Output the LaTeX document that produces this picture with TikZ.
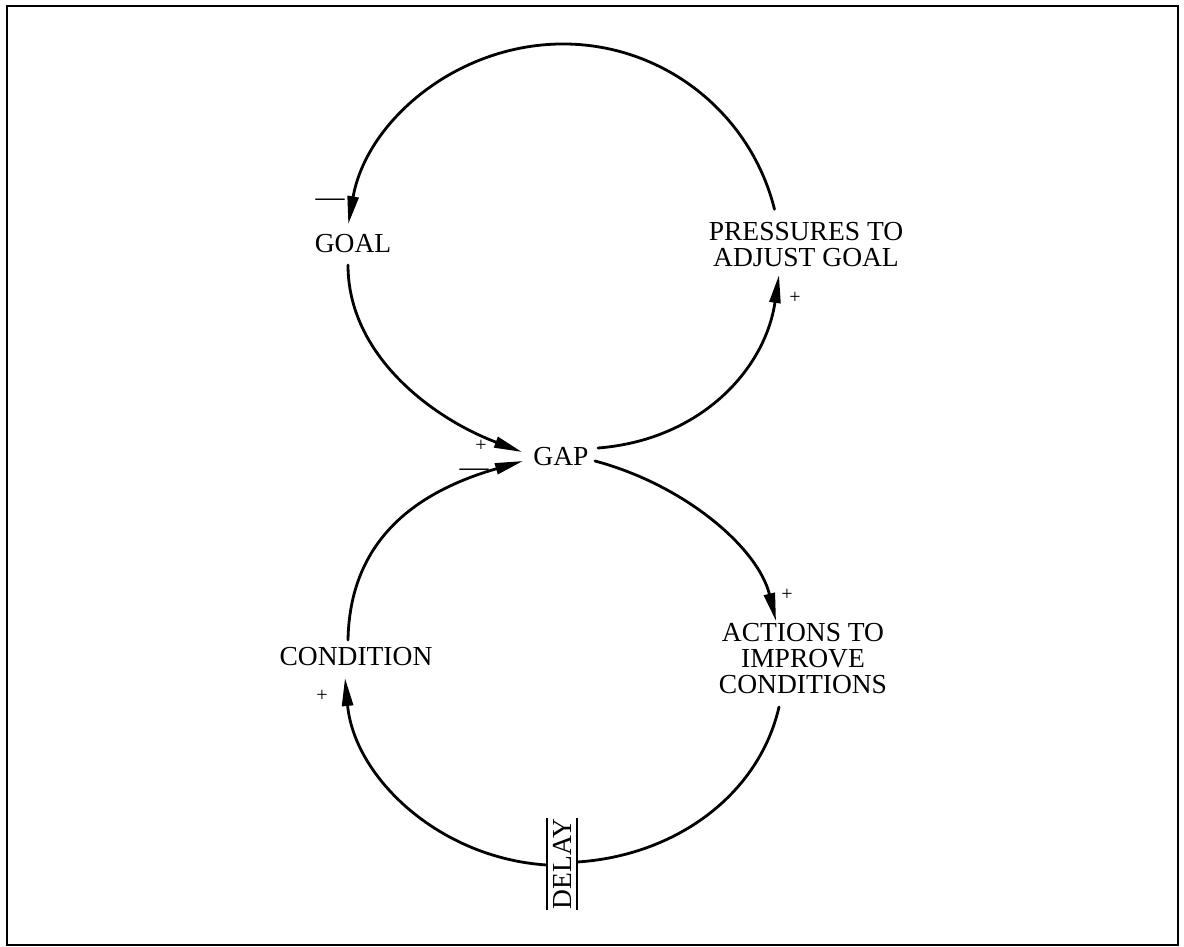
\documentclass[tikz,border=0pt]{standalone}
\usepackage{fontspec}
\setmainfont{Liberation Serif}
\usetikzlibrary{arrows.meta}
\begin{document}
\begin{tikzpicture}[x=1pt,y=-1pt,
  vartext/.style={font=\fontsize{27.5}{26}\selectfont, align=center, inner sep=0pt},
  polarity/.style={font=\fontsize{20}{20}\selectfont, inner sep=0pt},
  minussign/.style={font=\fontsize{29}{29}\selectfont, inner sep=0pt},
  loopline/.style={line width=2.8pt, line join=round, line cap=round},
  tip/.style={-{Triangle[length=28pt,width=11pt]}},
  bar/.style={line width=2.5pt},
]
\useasboundingbox (0,0) rectangle (1184,946);
% outer frame
\draw[line width=2.5pt] (7,6) rectangle (1178,945);

% variables
\node[vartext] (goal)    at (353,244) {GOAL};
\node[vartext] (press)   at (806,245) {PRESSURES TO\\ADJUST GOAL};
\node[vartext] (gap)     at (561,457) {GAP};
\node[vartext] (cond)    at (356,657) {CONDITION};
\node[vartext] (actions) at (803,659) {ACTIONS TO\\IMPROVE\\CONDITIONS};
\node[minimum width=30pt, minimum height=88pt, inner sep=0pt] (delay) at (562,864)
  {\fontsize{27.5}{26}\selectfont\rotatebox{90}{DELAY}};
\draw[bar] (delay.north west) -- (delay.south west);
\draw[bar] (delay.north east) -- (delay.south east);

% connector end points, placed relative to the variables
\coordinate (pressTop)   at ([shift={(-31.5,-35.7)}]press.center);
\coordinate (pressIn)    at ([shift={(-27,30)}]press.center);
\coordinate (goalIn)     at ([shift={(-4.7,-19.9)}]goal.center);
\coordinate (goalOut)    at ([shift={(-5,21)}]goal.center);
\coordinate (gapInA)     at ([shift={(-39,-5)}]gap.center);
\coordinate (gapInB)     at ([shift={(-38,4)}]gap.center);
\coordinate (gapOutA)    at ([shift={(37,-9)}]gap.center);
\coordinate (gapOutB)    at ([shift={(34,4)}]gap.center);
\coordinate (condOut)    at ([shift={(-8,-17)}]cond.center);
\coordinate (condIn)     at ([shift={(-11,21)}]cond.center);
\coordinate (actIn)      at ([shift={(-27,-38)}]actions.center);
\coordinate (actOut)     at ([shift={(-24,48)}]actions.center);
\coordinate (delayOut)   at ([yshift=-1pt]delay.west);
\coordinate (delayIn)    at ([yshift=2pt]delay.east);
\coordinate (arcTop)     at (555.4,44.1);

% upper loop
\draw[loopline,tip] (pressTop) .. controls (749.6,109.5) and (658.2,40.5) .. (arcTop)
  .. controls (452.6,47.7) and (366.2,122.8) .. (goalIn);
\draw[loopline,tip] (goalOut) .. controls (348,355) and (432,418) .. (gapInA);
\draw[loopline,tip] (gapOutA) .. controls (700,440) and (765,370) .. (pressIn);

% lower loop
\draw[loopline,tip] (gapOutB) .. controls (685,485) and (758,548) .. (actIn);
\draw[loopline] (actOut) .. controls (758.6,795.5) and (674.9,855.7) .. (delayIn);
\draw[loopline,tip] (delayOut) .. controls (439,858) and (354.4,777.5) .. (condIn);
\draw[loopline,tip] (condOut) .. controls (350,530) and (430,488) .. (gapInB);

% link polarities
\node[minussign] (mGoal) at (330,203) {—};
\node[polarity]  (pPress) at (795,298) {+};
\node[polarity]  (pGap)  at (481,446) {+};
\node[minussign] (mGap)  at (474,473) {—};
\node[polarity]  (pAct)  at (787,595) {+};
\node[polarity]  (pCond) at (322,696) {+};
\end{tikzpicture}
\end{document}
